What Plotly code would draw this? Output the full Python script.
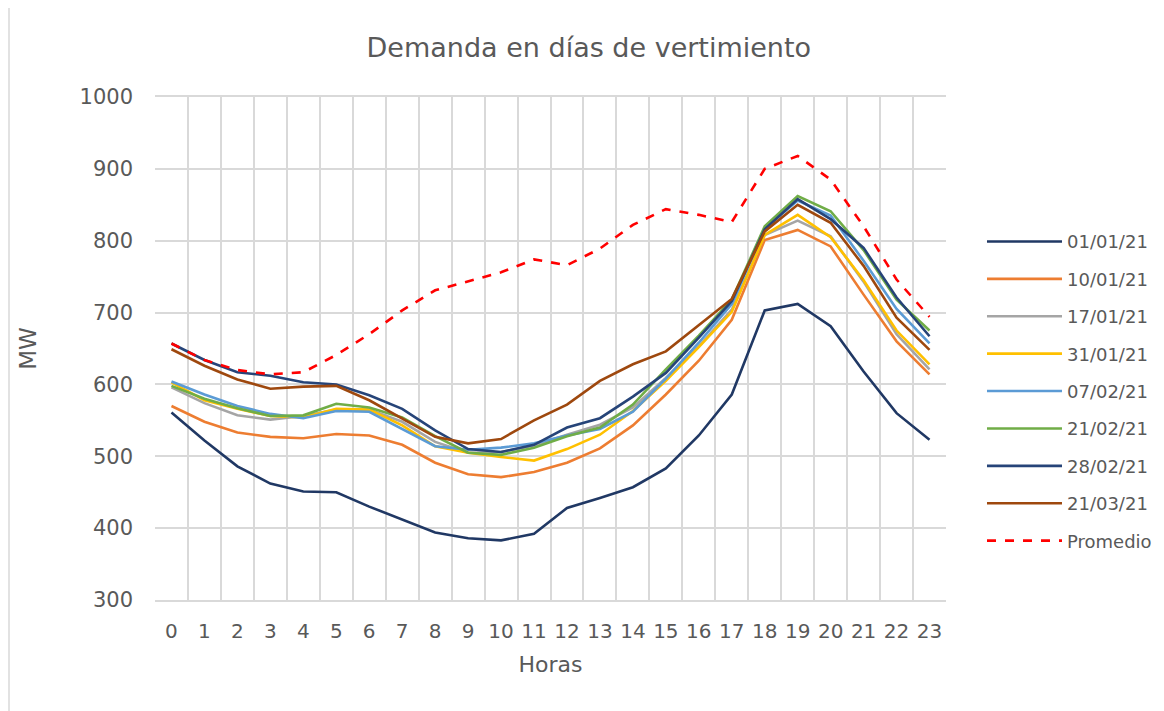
import plotly.graph_objects as go

horas = [str(h) for h in range(24)]

d_01_01 = [561, 522, 486, 462, 451, 450, 430, 412, 394, 386, 383, 392,
           428, 442, 457, 483, 529, 586, 703, 712, 681, 618, 560, 523]
d_10_01 = [570, 548, 533, 527, 525, 531, 529, 516, 491, 475, 471, 478,
           491, 511, 543, 586, 633, 690, 801, 815, 792, 725, 660, 614]
d_17_01 = [596, 574, 557, 551, 556, 565, 565, 548, 520, 505, 506, 515,
           530, 544, 568, 609, 653, 704, 808, 828, 806, 743, 670, 621]
d_31_01 = [603, 578, 566, 556, 554, 566, 565, 543, 514, 505, 499, 494,
           510, 530, 563, 605, 652, 701, 808, 836, 805, 745, 675, 628]
d_07_02 = [604, 586, 570, 559, 553, 563, 562, 538, 514, 509, 512, 518,
           529, 538, 562, 608, 658, 712, 817, 856, 835, 772, 705, 657]
d_21_02 = [598, 580, 567, 556, 557, 573, 568, 554, 528, 505, 502, 512,
           528, 540, 572, 621, 668, 718, 820, 862, 841, 787, 718, 675]
d_28_02 = [657, 634, 617, 612, 603, 600, 585, 566, 536, 510, 506, 516,
           540, 553, 583, 616, 665, 716, 816, 858, 830, 790, 721, 667]
d_21_03 = [649, 626, 607, 594, 597, 598, 578, 552, 527, 518, 524, 550,
           572, 605, 628, 646, 682, 719, 813, 850, 825, 765, 693, 648]
promedio = [657, 634, 620, 614, 617, 641, 670, 703, 731, 743, 756, 774,
            766, 789, 822, 844, 836, 826, 900, 918, 885, 820, 746, 694]

series = [
    ("01/01/21", d_01_01, "#203864"),
    ("10/01/21", d_10_01, "#ED7D31"),
    ("17/01/21", d_17_01, "#A5A5A5"),
    ("31/01/21", d_31_01, "#FFC000"),
    ("07/02/21", d_07_02, "#5B9BD5"),
    ("21/02/21", d_21_02, "#70AD47"),
    ("28/02/21", d_28_02, "#264478"),
    ("21/03/21", d_21_03, "#9E480E"),
]

font = "DejaVu Sans"
gris = "#595959"

fig = go.Figure()
for nombre, vals, color in series:
    fig.add_trace(go.Scatter(x=horas, y=vals, name=nombre, mode="lines",
                             legendgroup=nombre,
                             line=dict(color=color, width=2.6)))
fig.add_trace(go.Scatter(x=horas, y=promedio, name="Promedio", mode="lines",
                         legendgroup="Promedio",
                         line=dict(color="#FF0000", width=2.6, dash="dash")))

# the page body adds 8px, so margins are shifted by that
fig.update_layout(
    width=1164, height=711,
    paper_bgcolor="white", plot_bgcolor="white",
    margin=dict(l=147, r=226, t=89, b=119, autoexpand=False),
    font=dict(family=font, color=gris),
    title=dict(text="Demanda en días de vertimiento", x=0.499, xref="container",
               xanchor="center", y=1 - 40 / 711, yanchor="middle",
               font=dict(size=27, color=gris)),
    legend=dict(x=1.0455, y=0.749, yanchor="top", font=dict(size=18, color=gris),
                tracegroupgap=11, itemwidth=75),
    shapes=[dict(type="line", xref="paper", yref="paper",
                 x0=-146 / 791, x1=-146 / 791, y0=-0.3, y1=1.2,
                 line=dict(color="#d9d9d9", width=1.5))],
)
fig.update_xaxes(type="category", tickson="boundaries", range=[-0.5, 23.5],
                 showgrid=True, automargin=False, tickangle=0,
                 gridcolor="#d9d9d9", gridwidth=1.5, ticks="", showline=True,
                 linecolor="#d9d9d9", linewidth=1.5, mirror=True,
                 tickfont=dict(size=20, color=gris), ticklabelstandoff=12,
                 title=dict(text="Horas", font=dict(size=22, color=gris), standoff=15))
fig.update_yaxes(range=[300, 1000], dtick=100, showgrid=True, automargin=False,
                 gridcolor="#d9d9d9", gridwidth=1.5, zeroline=False,
                 tickfont=dict(size=21, color=gris), ticks="",
                 ticklabelstandoff=21,
                 title=dict(text="MW", font=dict(size=23, color=gris), standoff=36))

fig.write_html("out.html")
